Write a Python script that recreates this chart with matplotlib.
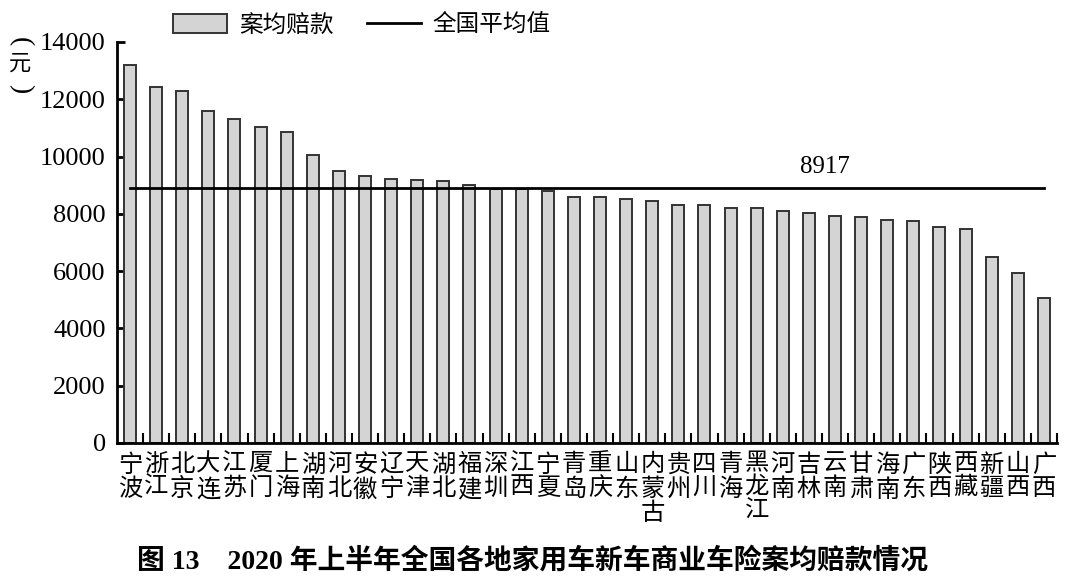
import matplotlib
matplotlib.use('Agg')
import matplotlib.pyplot as plt
from matplotlib.patches import Patch
from matplotlib.lines import Line2D

plt.rcParams['font.family'] = ['Liberation Serif', 'Noto Sans CJK SC']

regions = ['宁波', '浙江', '北京', '大连', '江苏', '厦门', '上海', '湖南', '河北', '安徽',
           '辽宁', '天津', '湖北', '福建', '深圳', '江西', '宁夏', '青岛', '重庆', '山东',
           '内蒙古', '贵州', '四川', '青海', '黑龙江', '河南', '吉林', '云南', '甘肃', '海南',
           '广东', '陕西', '西藏', '新疆', '山西', '广西']
claims = [13190, 12435, 12285, 11580, 11300, 11045, 10845, 10070, 9490, 9330,
          9200, 9185, 9130, 9015, 8875, 8850, 8810, 8605, 8605, 8535,
          8450, 8325, 8310, 8210, 8195, 8105, 8020, 7930, 7895, 7800,
          7765, 7545, 7475, 6500, 5940, 5045]
national_avg = 8917
yticks = [0, 2000, 4000, 6000, 8000, 10000, 12000, 14000]

fig = plt.figure(figsize=(10.8, 5.88), dpi=100)
ax = fig.add_axes([0.1083, 0.2466, 0.8704, 0.682])

x = list(range(len(regions)))
ax.bar(x, claims, width=0.46, color='#d4d4d4', edgecolor='#333333', linewidth=1.4, zorder=2)
ax.plot([x[0], x[-1]], [national_avg, national_avg], color='black', linewidth=2, zorder=3)
ax.text(26.6, 9250, str(national_avg), ha='center', va='bottom', fontsize=18)

ax.set_xlim(-0.5, len(regions) - 0.5)
ax.set_ylim(0, 14000)
ax.set_yticks(yticks)
ax.set_yticklabels([str(v) for v in yticks], fontsize=19)

# category boundaries carry the ticks, labels sit under bar centres
ax.set_xticks([i + 0.5 for i in range(len(regions))])
ax.set_xticklabels([])
ax.set_xticks(x, minor=True)
ax.set_xticklabels(['\n'.join(r) for r in regions], minor=True, fontsize=17.5,
                   va='top', linespacing=1.12)
ax.tick_params(axis='x', which='major', direction='in', length=7, width=1.5)
ax.tick_params(axis='x', which='minor', length=0, pad=8)
ax.tick_params(axis='y', direction='in', length=6, width=2, pad=8)

for s in ['top', 'right']:
    ax.spines[s].set_visible(False)
ax.spines['left'].set_linewidth(2)
ax.spines['bottom'].set_linewidth(2)

# vertical unit label: rotated brackets around 元
fig.text(0.019, 0.930, '(', rotation=-90, ha='center', va='center', fontsize=20,
         family=['Liberation Serif'])
fig.text(0.019, 0.893, '元', ha='center', va='center', fontsize=16,
         family=['Noto Sans CJK SC'])
fig.text(0.019, 0.850, ')', rotation=-90, ha='center', va='center', fontsize=20,
         family=['Liberation Serif'])

handles = [Patch(facecolor='#d4d4d4', edgecolor='#333333', linewidth=1.4),
           Line2D([], [], color='black', linewidth=2)]
fig.legend(handles, ['案均赔款', '全国平均值'], loc='center', bbox_to_anchor=(0.335, 0.957),
           ncol=2, frameon=False, fontsize=17, handlelength=2.3, handleheight=0.9,
           columnspacing=1.4, handletextpad=0.5)

fig.text(0.493, 0.045, '图 13    2020 年上半年全国各地家用车新车商业车险案均赔款情况',
         ha='center', va='center', fontsize=20, fontweight='bold')

fig.savefig('out.png', dpi=100)
